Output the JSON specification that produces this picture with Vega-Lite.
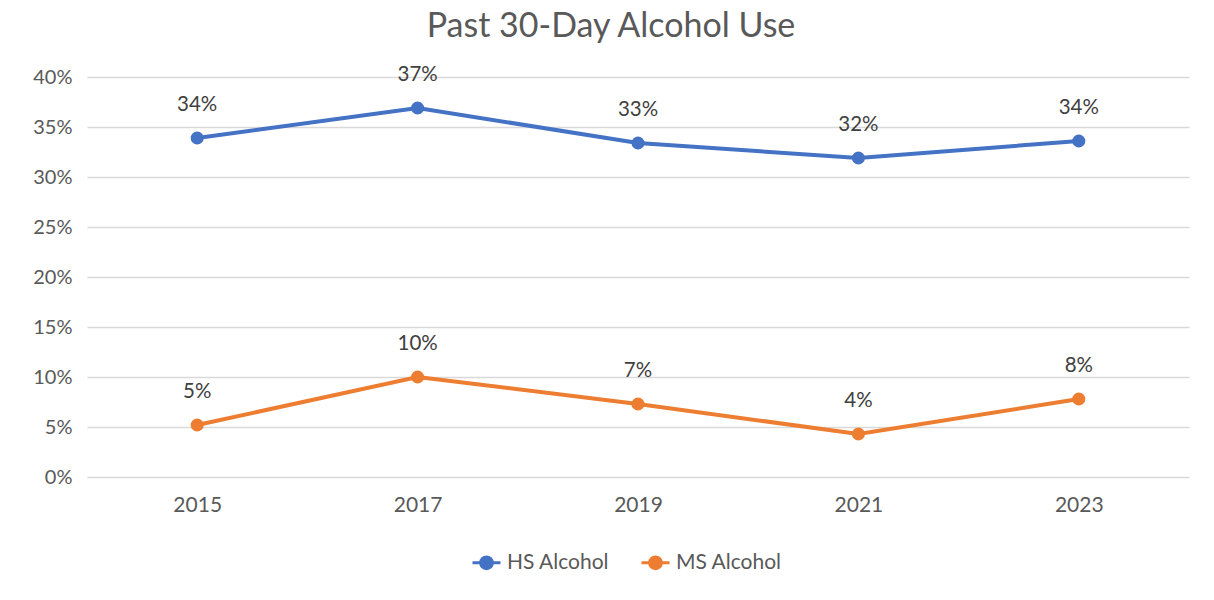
{
  "$schema": "https://vega.github.io/schema/vega-lite/v6.json",
  "autosize": {"type": "none"},
  "width": 1102,
  "height": 400,
  "padding": {"left": 87, "top": 77, "right": 25, "bottom": 123},
  "background": "white",
  "title": {
    "text": "Past 30-Day Alcohol Use",
    "font": "Lato",
    "fontSize": 34,
    "fontWeight": "normal",
    "color": "#595959",
    "anchor": "middle",
    "frame": "group",
    "baseline": "alphabetic",
    "offset": -6,
    "dx": -27
  },
  "data": {
    "values": [
      {"year": "2015", "series": "HS Alcohol", "value": 0.339},
      {"year": "2017", "series": "HS Alcohol", "value": 0.369},
      {"year": "2019", "series": "HS Alcohol", "value": 0.334},
      {"year": "2021", "series": "HS Alcohol", "value": 0.319},
      {"year": "2023", "series": "HS Alcohol", "value": 0.336},
      {"year": "2015", "series": "MS Alcohol", "value": 0.052},
      {"year": "2017", "series": "MS Alcohol", "value": 0.1},
      {"year": "2019", "series": "MS Alcohol", "value": 0.073},
      {"year": "2021", "series": "MS Alcohol", "value": 0.043},
      {"year": "2023", "series": "MS Alcohol", "value": 0.078}
    ]
  },
  "encoding": {
    "x": {
      "field": "year",
      "type": "ordinal",
      "scale": {"type": "point", "padding": 0.5},
      "axis": {
        "title": null,
        "labelAngle": 0,
        "ticks": false,
        "domain": false,
        "grid": false,
        "labelPadding": 17,
        "labelFont": "Lato",
        "labelFontSize": 21,
        "labelColor": "#595959"
      }
    },
    "y": {
      "field": "value",
      "type": "quantitative",
      "scale": {"domain": [0, 0.4], "nice": false},
      "axis": {
        "title": null,
        "format": ".0%",
        "values": [0, 0.05, 0.1, 0.15, 0.2, 0.25, 0.3, 0.35, 0.4],
        "ticks": false,
        "domain": false,
        "grid": true,
        "gridColor": "#d9d9d9",
        "gridWidth": 1.5,
        "labelPadding": 15,
        "labelFont": "Lato",
        "labelFontSize": 20,
        "labelColor": "#595959"
      }
    },
    "color": {
      "field": "series",
      "type": "nominal",
      "scale": {"domain": ["HS Alcohol", "MS Alcohol"], "range": ["#4472C4", "#ED7D31"]},
      "legend": {
        "title": null,
        "orient": "none",
        "legendX": 384,
        "legendY": 470,
        "direction": "horizontal",
        "labelFont": "Lato",
        "labelFontSize": 21,
        "labelColor": "#595959",
        "symbolType": "M-1,0 L1,0 M0.42,0 A0.42,0.42 0 1,1 -0.42,0 A0.42,0.42 0 1,1 0.42,0 Z",
        "symbolSize": 784,
        "symbolStrokeWidth": 3,
        "columnPadding": 25,
        "labelOffset": 5
      }
    }
  },
  "layer": [
    {"mark": {"type": "line", "strokeWidth": 4}},
    {"mark": {"type": "point", "filled": true, "size": 170, "opacity": 1}},
    {
      "mark": {"type": "text", "dy": -33, "font": "Lato", "fontSize": 20.5},
      "encoding": {
        "text": {"field": "value", "type": "quantitative", "format": ".0%"},
        "color": {"value": "#404040"}
      }
    }
  ],
  "config": {"view": {"stroke": null}}
}
